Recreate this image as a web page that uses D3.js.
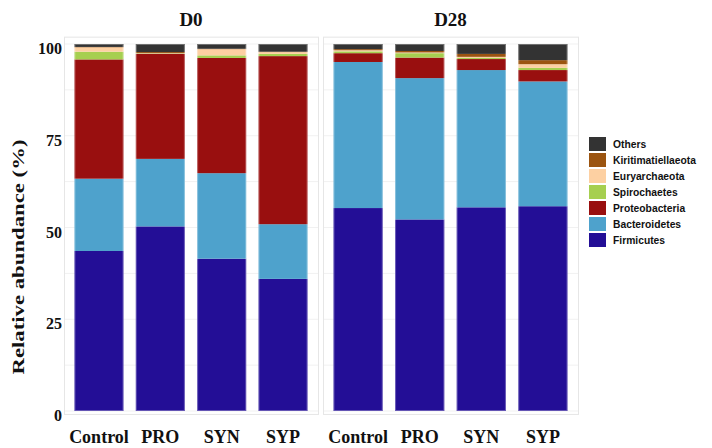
<!DOCTYPE html>
<html>
<head>
<meta charset="utf-8">
<script src="https://cdn.jsdelivr.net/npm/d3@7"></script>
<style>
  body { margin: 0; background: #fff; }
  svg text { fill: #111; }
</style>
</head>
<body>
<svg id="chart" width="712" height="448"></svg>
<script>
// samples, in plotting order (D0 then D28)
const days = ["D0", "D28"];
const groups = ["Control", "PRO", "SYN", "SYP"];

// taxa, bottom of the stack first
const taxa = ["Firmicutes", "Bacteroidetes", "Proteobacteria", "Spirochaetes",
              "Euryarchaeota", "Kiritimatiellaeota", "Others"];
const colors = ["#230e96", "#4ea2cc", "#990f0f", "#a6cf50", "#fdd0a2", "#9b5410", "#333333"];

// relative abundance (%) per sample: D0 Control, PRO, SYN, SYP, D28 Control, PRO, SYN, SYP
const firmicutes         = [43.6, 50.3, 41.5, 36.0, 55.3, 52.2, 55.5, 55.8];
const bacteroidetes      = [19.7, 18.4, 23.3, 14.9, 39.8, 38.5, 37.4, 34.0];
const proteobacteria     = [32.5, 28.6, 31.4, 45.8,  2.4,  5.6,  3.0,  3.1];
const spirochaetes       = [ 2.1,  0.1,  0.7,  0.6,  0.5,  1.2,  0.3,  0.6];
const euryarchaeota      = [ 1.2,  0.1,  1.7,  0.5,  0.3,  0.2,  0.3,  1.0];
const kiritimatiellaeota = [ 0.1,  0.3,  0.1,  0.1,  0.3,  0.4,  0.8,  1.1];
const others             = [ 0.8,  2.2,  1.3,  2.1,  1.4,  1.9,  2.7,  4.4];

const yTicks = [0, 25, 50, 75, 100];
const gridValues = [0, 12.5, 25, 37.5, 50, 62.5, 75, 87.5, 100];

const series = [firmicutes, bacteroidetes, proteobacteria, spirochaetes,
                euryarchaeota, kiritimatiellaeota, others];

// rows for d3.stack
const rows = [];
days.forEach((day, di) => {
    groups.forEach((g, gi) => {
        const row = { day: day, group: g };
        taxa.forEach((t, ti) => { row[t] = series[ti][di * groups.length + gi]; });
        rows.push(row);
    });
});

const svg = d3.select("#chart");
const serif = "'Liberation Serif', 'Times New Roman', serif";

const y = d3.scaleLinear().domain([0, 100]).range([411, 44]);
const color = d3.scaleOrdinal().domain(taxa).range(colors);

const panels = [
    { day: "D0", x0: 64, x1: 318 },
    { day: "D28", x0: 323, x1: 578 }
];

const stack = d3.stack().keys(taxa);

panels.forEach(p => {
    const x = d3.scaleBand()
        .domain(groups)
        .range([p.x0, p.x1])
        .paddingInner(0.2)
        .paddingOuter(0.17);

    const g = svg.append("g");

    // grid
    g.selectAll(".grid")
        .data(gridValues)
        .enter().append("line")
        .attr("x1", p.x0).attr("x2", p.x1)
        .attr("y1", d => y(d)).attr("y2", d => y(d))
        .attr("stroke", "#f1f1f1")
        .attr("stroke-width", 1);

    // panel border
    g.append("rect")
        .attr("x", p.x0 + 0.5)
        .attr("y", y(102) + 0.5)
        .attr("width", p.x1 - p.x0)
        .attr("height", y(-0.8) - y(102))
        .attr("fill", "none")
        .attr("stroke", "#e6e6e6");

    const data = rows.filter(r => r.day === p.day);
    const stacked = stack(data);

    g.selectAll(".layer")
        .data(stacked)
        .enter().append("g")
        .attr("fill", d => color(d.key))
        .selectAll("rect")
        .data(d => d)
        .enter().append("rect")
        .attr("x", d => x(d.data.group))
        .attr("width", x.bandwidth())
        .attr("y", d => y(d[1]))
        .attr("height", d => y(d[0]) - y(d[1]));

    // light edge round each bar
    g.selectAll(".edge")
        .data(data)
        .enter().append("rect")
        .attr("x", d => x(d.group) + 0.5)
        .attr("y", y(100) + 0.5)
        .attr("width", x.bandwidth() - 1)
        .attr("height", y(0) - y(100) - 1)
        .attr("fill", "none")
        .attr("stroke", "#ffffff")
        .attr("stroke-opacity", 0.3);

    // panel title
    svg.append("text")
        .attr("x", (p.x0 + p.x1) / 2)
        .attr("y", 26)
        .attr("text-anchor", "middle")
        .attr("font-family", serif)
        .attr("font-weight", "bold")
        .attr("font-size", 19)
        .text(p.day);

    // x labels
    svg.selectAll(null)
        .data(groups)
        .enter().append("text")
        .attr("x", d => x(d) + x.bandwidth() / 2)
        .attr("y", 443)
        .attr("text-anchor", "middle")
        .attr("font-family", serif)
        .attr("font-weight", "bold")
        .attr("font-size", 18)
        .text(d => d);
});

// y tick labels
svg.selectAll(".ytick")
    .data(yTicks)
    .enter().append("text")
    .attr("x", 62)
    .attr("y", d => y(d) + 10)
    .attr("text-anchor", "end")
    .attr("font-family", serif)
    .attr("font-weight", "bold")
    .attr("font-size", 16)
    .text(d => d);

// y title
svg.append("text")
    .attr("transform", "translate(24,257) rotate(-90)")
    .attr("text-anchor", "middle")
    .attr("font-family", serif)
    .attr("font-weight", "bold")
    .attr("font-size", 17)
    .attr("textLength", 235)
    .attr("lengthAdjust", "spacingAndGlyphs")
    .text("Relative abundance (%)");

// legend, top entry is the last taxon
const legendTaxa = taxa.slice().reverse();
const legend = svg.append("g").attr("transform", "translate(589,137)");
const item = legend.selectAll("g")
    .data(legendTaxa)
    .enter().append("g")
    .attr("transform", (d, i) => "translate(0," + i * 16 + ")");
item.append("rect")
    .attr("width", 17)
    .attr("height", 14)
    .attr("fill", d => color(d));
item.append("text")
    .attr("x", 24)
    .attr("y", 7)
    .attr("dy", "0.35em")
    .attr("font-family", "'Liberation Sans', Arial, sans-serif")
    .attr("font-weight", "bold")
    .attr("font-size", 10.3)
    .text(d => d);
</script>
</body>
</html>
